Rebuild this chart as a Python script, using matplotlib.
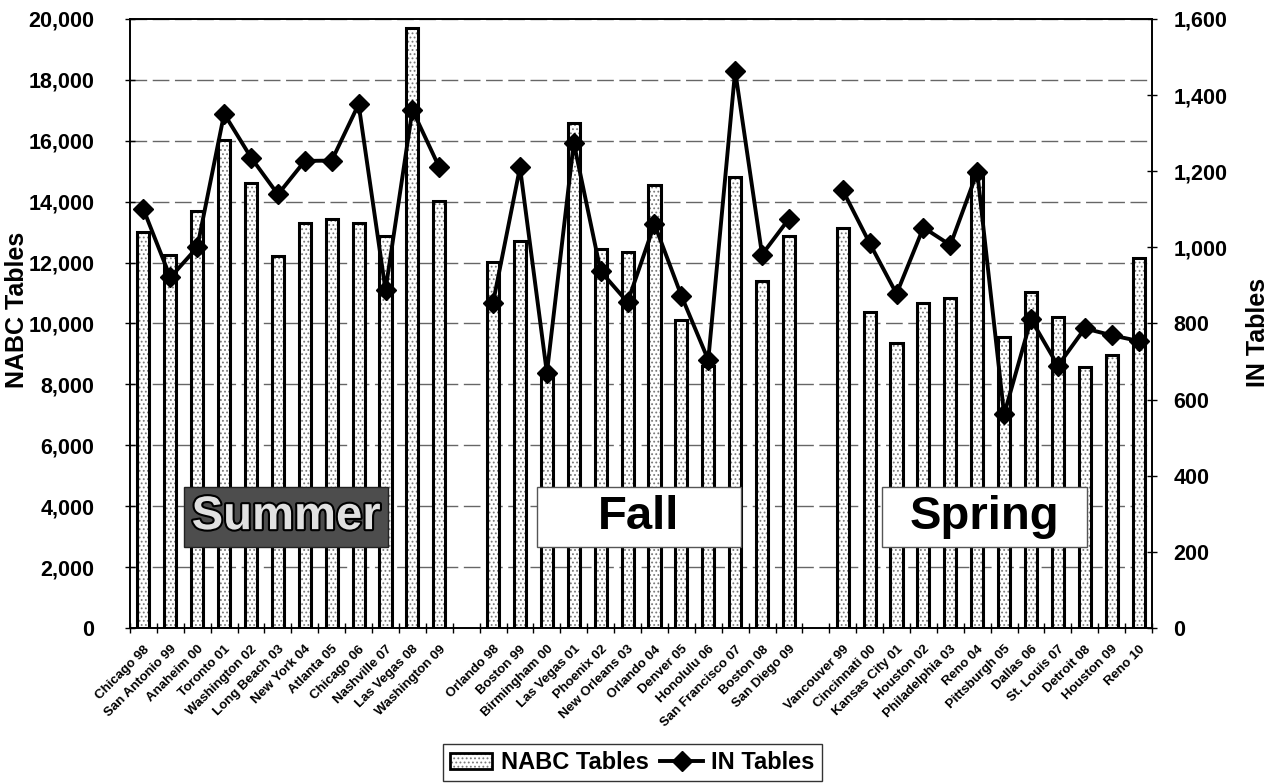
import matplotlib
matplotlib.use("Agg")
import matplotlib.pyplot as plt
import matplotlib.patheffects as pe
from matplotlib.patches import Rectangle, Patch
from matplotlib.lines import Line2D
from matplotlib.ticker import FuncFormatter, FixedLocator
import numpy as np

# season groups, one bar per show
summer_cities = ["Chicago 98", "San Antonio 99", "Anaheim 00", "Toronto 01", "Washington 02",
                 "Long Beach 03", "New York 04", "Atlanta 05", "Chicago 06", "Nashville 07",
                 "Las Vegas 08", "Washington 09"]
fall_cities = ["Orlando 98", "Boston 99", "Birmingham 00", "Las Vegas 01", "Phoenix 02",
               "New Orleans 03", "Orlando 04", "Denver 05", "Honolulu 06", "San Francisco 07",
               "Boston 08", "San Diego 09"]
spring_cities = ["Vancouver 99", "Cincinnati 00", "Kansas City 01", "Houston 02", "Philadelphia 03",
                 "Reno 04", "Pittsburgh 05", "Dallas 06", "St. Louis 07", "Detroit 08",
                 "Houston 09", "Reno 10"]

summer_nabc = [13000, 12250, 13680, 16030, 14620, 12230, 13290, 13430, 13310, 12860, 19700, 14030]
fall_nabc = [12030, 12700, 8210, 16600, 12440, 12350, 14560, 10130, 8590, 14820, 11380, 12870]
spring_nabc = [13120, 10370, 9360, 10660, 10830, 14980, 9570, 11040, 10210, 8580, 8960, 12150]

summer_in = [1100, 921, 1000, 1351, 1236, 1139, 1227, 1228, 1376, 888, 1361, 1210]
fall_in = [855, 1210, 670, 1275, 937, 856, 1061, 873, 704, 1464, 981, 1075]
spring_in = [1150, 1011, 878, 1052, 1006, 1198, 561, 811, 689, 787, 769, 754]

season_names = ["Summer", "Fall", "Spring"]

plt.rcParams["font.family"] = ["Liberation Sans", "DejaVu Sans"]
plt.rcParams["font.weight"] = "bold"
plt.rcParams["hatch.linewidth"] = 0.8

# one empty slot between seasons
nan = float("nan")
labels = summer_cities + [""] + fall_cities + [""] + spring_cities
nabc = summer_nabc + [nan] + fall_nabc + [nan] + spring_nabc
in_tables = summer_in + [nan] + fall_in + [nan] + spring_in
x = np.arange(len(labels))

fig = plt.figure(figsize=(12.72, 7.84), dpi=100)
ax = fig.add_axes([0.1022, 0.199, 0.8035, 0.7768])
ax2 = ax.twinx()

ax.bar(x, nabc, width=0.45, color="white", edgecolor="#7a7a7a", hatch="....", lw=0, zorder=2)
ax.bar(x, nabc, width=0.45, fill=False, edgecolor="black", lw=2.2, zorder=3)
ax2.plot(x, in_tables, color="black", lw=2.8, marker="D", ms=10, zorder=4)

ax.set_xlim(-0.5, len(labels) - 0.5)
ax.set_ylim(0, 20000)
ax2.set_ylim(0, 1600)
ax.set_yticks(np.arange(0, 20001, 2000))
ax2.set_yticks(np.arange(0, 1601, 200))
fmt = FuncFormatter(lambda v, p: f"{v:,.0f}")
ax.yaxis.set_major_formatter(fmt)
ax2.yaxis.set_major_formatter(fmt)
ax.tick_params(axis="y", labelsize=15.5, direction="inout", length=7, width=1, pad=22)
ax2.tick_params(axis="y", labelsize=15.5, direction="inout", length=7, width=1, pad=12)

ax.set_xticks(x)
ax.set_xticklabels(labels, rotation=45, ha="right", va="top", rotation_mode="anchor", fontsize=9.5)
ax.tick_params(axis="x", length=0, pad=11)
ax.xaxis.set_minor_locator(FixedLocator(np.arange(-0.5, len(labels), 1.0)))
ax.tick_params(axis="x", which="minor", direction="inout", length=7, width=1)

ax.yaxis.grid(True, color="#666666", lw=1, ls=(0, (12, 4)))
ax.set_axisbelow(True)
for a in (ax, ax2):
    for s in a.spines.values():
        s.set_color("black")
        s.set_linewidth(1.2)

fig.text(17 / 1272, 1 - 310 / 784, "NABC Tables", rotation=90, ha="center", va="center",
         fontsize=18, fontweight="bold")
fig.text(1258 / 1272, 1 - 332 / 784, "IN Tables", rotation=90, ha="center", va="center",
         fontsize=18, fontweight="bold")

# season boxes
box_x = [0.0528, 0.398, 0.736]
for name, bx in zip(season_names, box_x):
    dark = name == "Summer"
    ax2.add_patch(Rectangle((bx, 0.133), 0.2, 0.0985, transform=ax2.transAxes,
                            facecolor="#4d4d4d" if dark else "white",
                            edgecolor="#222222" if dark else "#555555", lw=1, zorder=6))
    t = ax2.text(bx + 0.1, 0.133 + 0.049, name, transform=ax2.transAxes, ha="center", va="center",
                 fontsize=34, fontweight="bold", color="#e0e0e0" if dark else "black", zorder=7)
    if dark:
        t.set_path_effects([pe.withStroke(linewidth=3, foreground="black")])

bar_handle = (Patch(facecolor="white", edgecolor="#7a7a7a", hatch="....", lw=0),
              Patch(fill=False, edgecolor="black", lw=2))
line_handle = Line2D([], [], color="black", lw=2.8, marker="D", ms=10)
leg = fig.legend([bar_handle, line_handle], ["NABC Tables", "IN Tables"], loc="center",
                 bbox_to_anchor=(0.497, 0.027), ncol=2, frameon=True, fancybox=False,
                 edgecolor="black", fontsize=17, handlelength=1.8, columnspacing=0.5,
                 handletextpad=0.35, borderpad=0.3, borderaxespad=0)
leg.get_frame().set_linewidth(1)

fig.savefig("out.png", dpi=100)
